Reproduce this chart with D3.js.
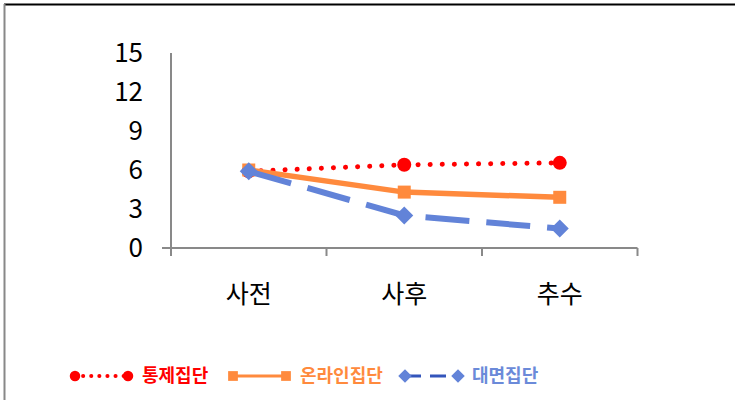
<!DOCTYPE html>
<html>
<head>
<meta charset="utf-8">
<script src="https://cdn.jsdelivr.net/npm/d3@7"></script>
<style>
  body { margin: 0; background: #fff; }
  svg text { font-family: "Noto Sans CJK KR", "Noto Sans", sans-serif; }
</style>
</head>
<body>
<div id="chart"></div>
<script>
// data
var categories = ["사전", "사후", "추수"];
var yTicks = [0, 3, 6, 9, 12, 15];
var seriesNames = ["통제집단", "온라인집단", "대면집단"];
var controlVals = [5.9, 6.4, 6.55];
var onlineVals = [6.0, 4.3, 3.9];
var faceVals = [5.9, 2.5, 1.5];

var width = 735, height = 400;

var svg = d3.select("#chart")
  .append("svg")
    .attr("width", width)
    .attr("height", height);

// outer frame (top + left edges visible)
svg.append("line").attr("x1", 4).attr("x2", width).attr("y1", 4.5).attr("y2", 4.5)
  .attr("stroke", "#000").attr("stroke-width", 2);
svg.append("line").attr("x1", 4.5).attr("x2", 4.5).attr("y1", 4).attr("y2", height)
  .attr("stroke", "#888").attr("stroke-width", 2);

var x = d3.scaleBand().domain(categories).range([171, 637.5]);
var y = d3.scaleLinear().domain([0, 15]).range([248, 53]);

// y axis
svg.append("line")
  .attr("x1", 171).attr("x2", 171).attr("y1", y(15)).attr("y2", y(0))
  .attr("stroke", "#898989").attr("stroke-width", 2);

svg.selectAll(".ylab")
  .data(yTicks)
  .enter()
  .append("text")
    .attr("x", 143)
    .attr("y", function(d){ return y(d); })
    .attr("dy", "0.36em")
    .attr("text-anchor", "end")
    .attr("font-size", 26)
    .attr("fill", "#000")
    .text(function(d){ return d; });

// x axis
svg.append("line")
  .attr("x1", 162).attr("x2", 637.5).attr("y1", y(0)).attr("y2", y(0))
  .attr("stroke", "#898989").attr("stroke-width", 2);

var bounds = [x.range()[0]].concat(categories.map(function(c){ return x(c) + x.bandwidth(); }));
svg.selectAll(".xtick")
  .data(bounds)
  .enter()
  .append("line")
    .attr("x1", function(d){ return d; })
    .attr("x2", function(d){ return d; })
    .attr("y1", y(0))
    .attr("y2", y(0) + 8)
    .attr("stroke", "#898989")
    .attr("stroke-width", 2);

svg.selectAll(".xlab")
  .data(categories)
  .enter()
  .append("text")
    .attr("x", function(d){ return x(d) + x.bandwidth() / 2; })
    .attr("y", 303)
    .attr("text-anchor", "middle")
    .attr("font-size", 25)
    .attr("fill", "#000")
    .text(function(d){ return d; });

var cx = function(d, i){ return x(categories[i]) + x.bandwidth() / 2; };
var line = d3.line()
  .x(function(d, i){ return cx(d, i); })
  .y(function(d){ return y(d); });

var series = [
  {name: seriesNames[0], vals: controlVals, color: "#ff0000", text: "#ff0000", width: 5, dash: "0.1 12", cap: "round", marker: "circle"},
  {name: seriesNames[1], vals: onlineVals, color: "#ff8a3d", text: "#ff8a3d", width: 5.5, dash: null, cap: "butt", marker: "square"},
  {name: seriesNames[2], vals: faceVals, color: "#6283d8", text: "#6b8ad9", width: 6, dash: "44 17", cap: "butt", marker: "diamond"}
];

var drawMarker = function(g, type, px, py, color, s) {
  if (type == "circle") {
    g.append("circle").attr("cx", px).attr("cy", py).attr("r", 7 * s).attr("fill", color);
  } else if (type == "square") {
    g.append("rect").attr("x", px - 6.5 * s).attr("y", py - 6.5 * s)
      .attr("width", 13 * s).attr("height", 13 * s).attr("fill", color);
  } else {
    var r = 9 * s;
    g.append("path")
      .attr("d", "M" + px + "," + (py - r) + "L" + (px + r) + "," + py + "L" + px + "," + (py + r) + "L" + (px - r) + "," + py + "Z")
      .attr("fill", color);
  }
};

series.forEach(function(s) {
  var g = svg.append("g");
  g.append("path")
    .datum(s.vals)
    .attr("d", line)
    .attr("fill", "none")
    .attr("stroke", s.color)
    .attr("stroke-width", s.width)
    .attr("stroke-linecap", s.cap)
    .attr("stroke-dasharray", s.dash);
  s.vals.forEach(function(v, i) {
    drawMarker(g, s.marker, cx(v, i), y(v), s.color, 1);
  });
});

// legend
var legendX = [75, 233, 405];
var legendY = 376;
series.forEach(function(s, i) {
  var g = svg.append("g");
  var x0 = legendX[i], x1 = x0 + 53;
  var lcol = i == 2 ? "#3355bb" : s.color;
  g.append("line")
    .attr("x1", x0).attr("x2", x1).attr("y1", legendY).attr("y2", legendY)
    .attr("stroke", lcol)
    .attr("stroke-width", i == 0 ? 4 : 3)
    .attr("stroke-linecap", s.cap)
    .attr("stroke-dasharray", i == 0 ? "0.1 8" : (i == 2 ? "16 9" : null));
  drawMarker(g, s.marker, x0, legendY, s.color, 0.75);
  drawMarker(g, s.marker, x1, legendY, s.color, 0.75);
  g.append("text")
    .attr("x", x1 + 14)
    .attr("y", legendY)
    .attr("dy", "0.36em")
    .attr("font-size", 18)
    .attr("font-weight", "bold")
    .attr("fill", s.text)
    .text(s.name);
});
</script>
</body>
</html>
